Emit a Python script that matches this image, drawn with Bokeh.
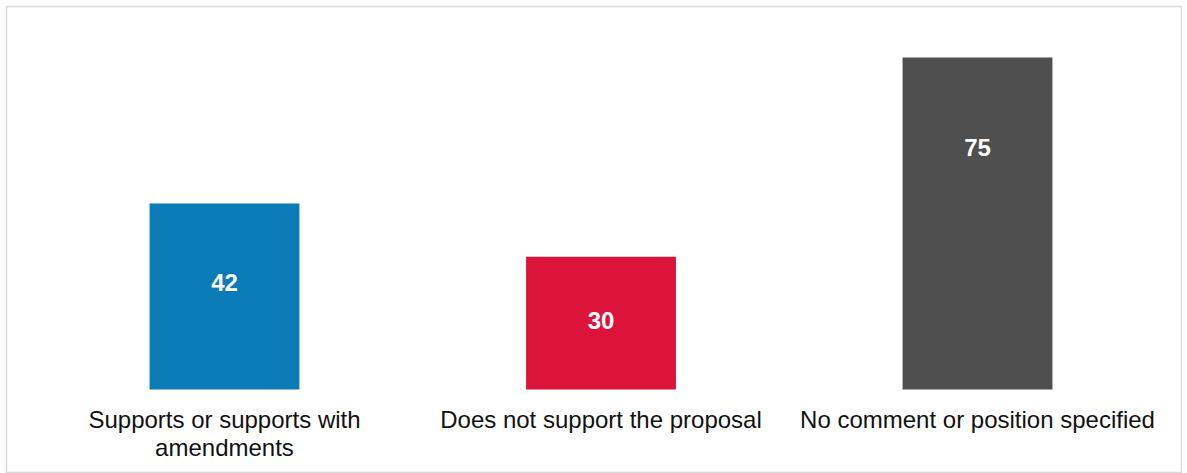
from bokeh.plotting import figure
from bokeh.models import ColumnDataSource, Range1d
from bokeh.core.properties import value
from bokeh.embed import file_html
from bokeh.resources import INLINE

categories = ["Supports or supports with amendments", "Does not support the proposal", "No comment or position specified"]
category_labels = ["Supports or supports with\namendments", "Does not support the proposal", "No comment or position specified"]
counts = [42, 30, 75]
colors = ["#0B7BB8", "#DC143C", "#4F4F4F"]
value_label_pos = [24.2, 15.6, 54.7]

src = ColumnDataSource(dict(x=list(range(len(categories))), cat=categories, lab=category_labels,
                            val=counts, col=colors, txt=[str(v) for v in counts],
                            ly=value_label_pos, cy=[-3.8] * len(categories)))

p = figure(width=1182, height=473, output_backend="svg", toolbar_location=None,
           x_range=Range1d(-0.579, 2.5418), y_range=Range1d(-18.98, 86.52),
           min_border_left=6, min_border_top=6, min_border_right=1, min_border_bottom=0)
p.vbar(x="x", top="val", bottom=0, width=0.398, color="col", line_color=None, source=src)
p.text(x="x", y="ly", text="txt", source=src, text_color="white",
       text_font=value("Liberation Sans"), text_font_style="bold", text_font_size="24px",
       text_align="center", text_baseline="middle")
p.text(x="x", y="cy", text="lab", source=src, text_color="#111111",
       text_font=value("Liberation Sans"), text_font_size="24px",
       text_align="center", text_baseline="top", text_line_height=1.02)
p.xaxis.visible = False
p.yaxis.visible = False
p.xgrid.visible = False
p.ygrid.visible = False
p.outline_line_color = "#D9D9D9"
p.outline_line_width = 1.5
p.background_fill_color = "white"
p.border_fill_color = "white"

open("out.html", "w").write(file_html(p, INLINE))
